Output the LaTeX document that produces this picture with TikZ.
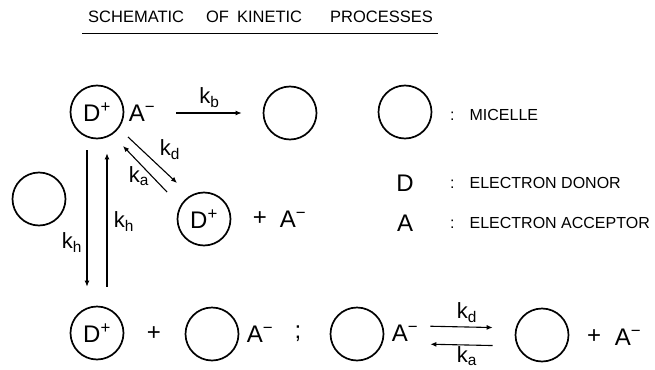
\documentclass[tikz,border=0pt]{standalone}
\usepackage{fontspec}
\setmainfont{Liberation Sans}
\usetikzlibrary{arrows.meta}
\newcommand{\kinD}{D\textsuperscript{+}}
\newcommand{\kinA}{A\textsuperscript{−}}
\tikzset{
  kin/micelle/.style={
    circle,
    draw,
    line width=1.7pt,
    minimum size=53pt,
    inner sep=0pt,
    font=\fontsize{24}{24}\selectfont
  },
  kin/species/.style={inner sep=1pt, font=\fontsize{24}{24}\selectfont},
  kin/rate/.style={inner sep=0pt, font=\fontsize{22}{22}\selectfont},
  kin/legend/.style={anchor=west, inner sep=0pt, font=\fontsize{16}{16}\selectfont},
  kin/title/.style={anchor=west, inner sep=0pt, font=\fontsize{16.5}{17}\selectfont},
  kin/arrow/.style={-{Latex[length=6pt,width=5pt]}, line width=1.1pt}
}

\begin{document}
\begin{tikzpicture}[x=1pt,y=-1pt]
  \useasboundingbox (0,0) rectangle (655,369);
  \node[kin/title] (title) at (88,17) {SCHEMATIC\hspace{22pt}OF\hspace{8pt}KINETIC\hspace{28pt}PROCESSES};
  \draw[line width=0.8pt] (82,33) -- (438,33);

  \node[kin/micelle] (ionpair) at (97,112) {\kinD};
  \node[kin/species] (ionpairA) at (142,113) {\kinA};
  \node[kin/micelle] (empty1) at (290,113) {};
  \draw[kin/arrow,shorten <=20pt,shorten >=21pt] (ionpairA) -- node[kin/rate,above=5pt] {k\textsubscript{b}} (empty1);

  \node[kin/micelle] (legmic) at (405,112) {};
  \node[kin/legend] (legmictxt) at (450,115) {:\hspace{15pt}MICELLE};
  \node[kin/species] (legD) at (405,183) {D};
  \node[kin/legend] (legDtxt) at (450,183) {:\hspace{15pt}ELECTRON DONOR};
  \node[kin/species] (legA) at (405,223) {A};
  \node[kin/legend] (legAtxt) at (450,223) {:\hspace{15pt}ELECTRON ACCEPTOR};

  \node[kin/micelle] (donor1) at (204,219) {\kinD};
  \node[kin/species] (plus1) at (260,219) {+};
  \node[kin/species] (acc1) at (293,219) {\kinA};
  \coordinate (kdstart) at (128,137);
  \coordinate (kdend) at (177,183);
  \coordinate (kastart) at (167,192);
  \coordinate (kaend) at (123,146);
  \draw[kin/arrow] (kdstart) -- (kdend);
  \draw[kin/arrow] (kastart) -- (kaend);
  \node[kin/rate] (kdlab1) at (170,150) {k\textsubscript{d}};
  \node[kin/rate] (kalab1) at (139,176) {k\textsubscript{a}};

  \node[kin/micelle] (empty2) at (39,199) {};

  \node[kin/micelle] (donor2) at (97,333) {\kinD};
  \draw[kin/arrow,shorten <=11pt,shorten >=19pt] ([xshift=-10pt]ionpair.south) -- ([xshift=-10pt]donor2.north);
  \draw[kin/arrow,shorten <=19pt,shorten >=14pt] ([xshift=10pt]donor2.north) -- ([xshift=10pt]ionpair.south);
  \node[kin/rate] (khlab1) at (72,243) {k\textsubscript{h}};
  \node[kin/rate] (khlab2) at (124,222) {k\textsubscript{h}};

  \node[kin/species] (plus2) at (154,334) {+};
  \node[kin/micelle] (empty3) at (212,334) {};
  \node[kin/species] (acc2) at (260,334) {\kinA};
  \node[kin/species] (semi) at (298,334) {;};
  \node[kin/micelle] (empty4) at (357,334) {};
  \node[kin/species] (acc3) at (405,333) {\kinA};
  \node[kin/micelle] (empty5) at (542,335) {};
  \node[kin/species] (plus3) at (594,337) {+};
  \node[kin/species] (acc4) at (628,337) {\kinA};
  \draw[kin/arrow,shorten <=11pt,shorten >=22pt] ([yshift=7pt]acc3.east) -- node[kin/rate,above=4pt] {k\textsubscript{d}} ([yshift=7pt]empty5.west);
  \draw[kin/arrow,shorten <=22pt,shorten >=11pt] ([yshift=-11pt]empty5.west) -- node[kin/rate,below=1pt] {k\textsubscript{a}} ([yshift=-11pt]acc3.east);
\end{tikzpicture}
\end{document}
